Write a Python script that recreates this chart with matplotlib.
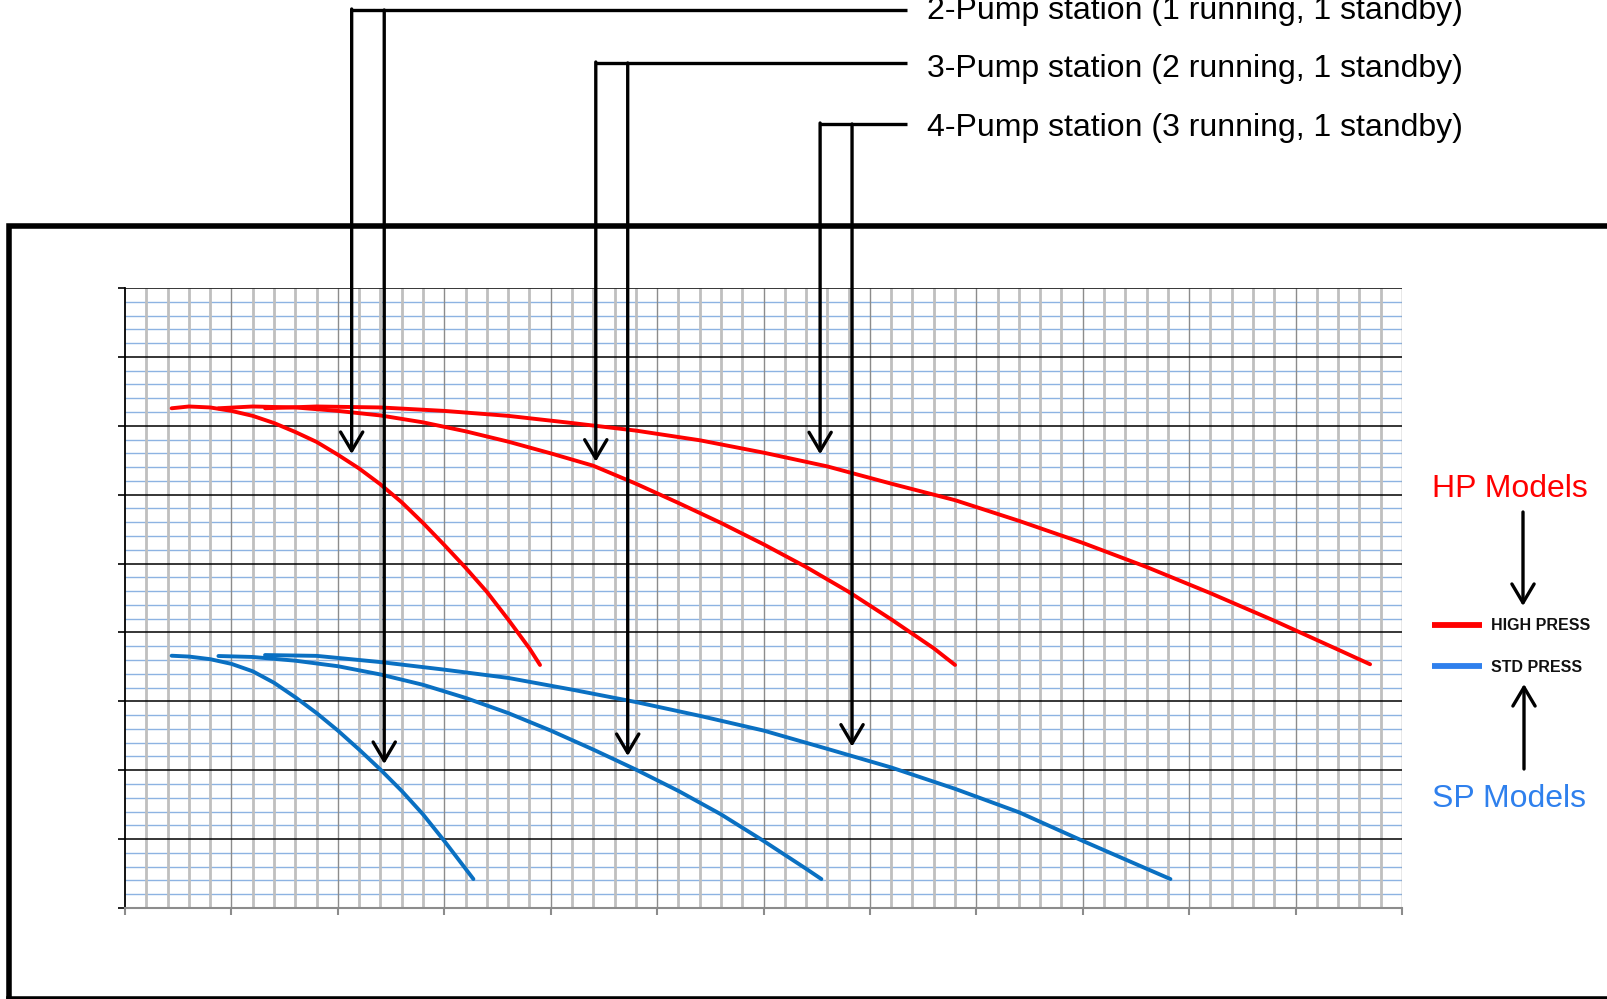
import matplotlib
matplotlib.use('Agg')
import matplotlib.pyplot as plt
import numpy as np

plt.rcParams['font.family'] = ['Liberation Sans', 'DejaVu Sans']

# %% Data: pump curves (x = flow, y = head, grid units)
# HP models, 1 / 2 / 3 pumps running
hp1_x = [2.19, 3, 4, 5, 6, 7, 8, 9, 10, 11, 12, 13, 14, 15, 16, 17, 18, 19, 19.5]
hp1_y = [36.27, 36.40, 36.33, 36.08, 35.72, 35.20, 34.55, 33.83, 32.90, 31.90, 30.75, 29.45,
         27.95, 26.35, 24.70, 22.95, 20.95, 18.85, 17.64]
hp2_x = [4.39, 6, 8, 10, 12, 14, 16, 18, 20, 22, 24, 26, 28, 30, 32, 34, 36, 38, 39]
hp2_y = [36.27, 36.40, 36.33, 36.08, 35.75, 35.25, 34.60, 33.85, 33.00, 32.10, 30.80, 29.40,
         27.95, 26.40, 24.75, 22.95, 20.95, 18.85, 17.64]
hp3_x = [6.58, 9, 12, 15, 18, 21, 24, 27, 30, 33, 36, 39, 42, 45, 48, 51, 54, 57, 58.5]
hp3_y = [36.27, 36.40, 36.33, 36.08, 35.72, 35.20, 34.65, 33.95, 33.05, 32.05, 30.80, 29.60,
         28.10, 26.50, 24.75, 22.85, 20.85, 18.75, 17.69]

# SP models, 1 / 2 / 3 pumps running
sp1_x = [2.19, 3, 4, 5, 6, 7, 8, 9, 10, 11, 12, 13, 14, 15, 16, 16.37]
sp1_y = [18.31, 18.25, 18.06, 17.72, 17.18, 16.35, 15.30, 14.15, 12.88, 11.50, 10.05, 8.50,
         6.80, 4.87, 2.85, 2.10]
sp2_x = [4.39, 6, 8, 10, 12, 14, 16, 18, 20, 22, 24, 26, 28, 30, 32, 32.72]
sp2_y = [18.29, 18.22, 17.95, 17.55, 16.95, 16.20, 15.25, 14.15, 12.88, 11.50, 10.05, 8.50,
         6.80, 4.87, 2.85, 2.10]
sp3_x = [6.58, 9, 12, 15, 18, 21, 24, 27, 30, 33, 36, 39, 42, 45, 48, 49.12]
sp3_y = [18.36, 18.30, 17.85, 17.30, 16.70, 15.85, 14.95, 13.95, 12.88, 11.55, 10.20, 8.65,
         6.95, 4.87, 2.85, 2.10]

station_labels = ['2-Pump station (1 running, 1 standby)',
                  '3-Pump station (2 running, 1 standby)',
                  '4-Pump station (3 running, 1 standby)']
legend_labels = ['HIGH PRESS', 'STD PRESS']
model_labels = ['HP Models', 'SP Models']

RED = '#FF0000'
BLUE = '#0A70C2'
BLUE_LIGHT = '#2F80ED'

# %% Figure + chart axes (pixel layout of the reference)
W, H = 1607, 999
fig = plt.figure(figsize=(W / 100, H / 100), dpi=100)
ax = fig.add_axes([125 / W, (H - 908) / H, 1277 / W, 620 / H])
ax.set_xlim(0, 60)
ax.set_ylim(0, 45)

# graph-paper grid
xs = np.arange(0, 61)
ys = np.arange(0, 46)
ax.hlines(ys[ys % 5 != 0], 0, 60, color='#8DB3E2', lw=1.0, zorder=1)
ax.vlines(xs[xs % 5 != 0], 0, 45, color='#BFBFBF', lw=2.0, zorder=1.1)
ax.vlines(xs[5::5], 0, 45, color='#8C8C8C', lw=1.0, zorder=1.2)
ax.hlines(ys[5::5], 0, 60, color='black', lw=1.1, zorder=1.3)

for s in ['top', 'right']:
    ax.spines[s].set_visible(False)
ax.spines['left'].set_color('black')
ax.spines['left'].set_linewidth(1.3)
ax.spines['bottom'].set_color('#8C8C8C')
ax.spines['bottom'].set_linewidth(1.5)
ax.set_xticks(np.arange(0, 61, 5))
ax.set_yticks(np.arange(0, 46, 5))
ax.tick_params(direction='out', length=5, labelbottom=False, labelleft=False)
ax.tick_params(axis='x', color='#8C8C8C', width=1.5)
ax.tick_params(axis='y', color='black', width=1.2)

# curves
for cx, cy in [(hp1_x, hp1_y), (hp2_x, hp2_y), (hp3_x, hp3_y)]:
    ax.plot(cx, cy, color=RED, lw=2.8, solid_capstyle='round', solid_joinstyle='round', zorder=3)
for cx, cy in [(sp1_x, sp1_y), (sp2_x, sp2_y), (sp3_x, sp3_y)]:
    ax.plot(cx, cy, color=BLUE, lw=2.8, solid_capstyle='round', solid_joinstyle='round', zorder=3)

# %% Overlay in pixel coords for frame, callouts and side legend
cv = fig.add_axes([0, 0, 1, 1], zorder=5)
cv.set_xlim(0, W)
cv.set_ylim(H, 0)
cv.axis('off')
cv.patch.set_alpha(0)

# outer frame (cut off at right and bottom)
cv.plot([9, 9, W + 20], [H + 20, 226, 226], color='black', lw=4, solid_joinstyle='miter')
cv.plot([9, W + 20], [999, 999], color='black', lw=4)


def to_px(pt):
    return cv.transData.inverted().transform(ax.transData.transform(pt))


arrow_kw = dict(arrowstyle='->,head_length=1.35,head_width=0.8', lw=2.4, color='black',
                shrinkA=0, shrinkB=0, mutation_scale=10)

# arrow tips (data coords) on the HP and SP curves for each station
tips = [((10.65, 32.95), (12.18, 10.45)),
        ((22.12, 32.39), (23.62, 11.03)),
        ((32.66, 32.93), (34.16, 11.71))]
leader_y = [10, 63, 124]
label_y = [11, 69, 128]

for lab, ly, ty, (t_hp, t_sp) in zip(station_labels, leader_y, label_y, tips):
    p_hp = to_px(t_hp)
    p_sp = to_px(t_sp)
    cv.plot([p_hp[0], 907], [ly, ly], color='black', lw=2.4, solid_capstyle='butt')
    cv.annotate('', xy=p_hp, xytext=(p_hp[0], ly - 1), arrowprops=arrow_kw)
    cv.annotate('', xy=p_sp, xytext=(p_sp[0], ly), arrowprops=arrow_kw)
    cv.text(927, ty, lab, fontsize=23, va='center', ha='left', color='black')

# side legend
cv.text(1432, 489, model_labels[0], color=RED, fontsize=23, va='center', ha='left')
cv.annotate('', xy=(1523, 606), xytext=(1523, 512), arrowprops=arrow_kw)
cv.plot([1432, 1482], [625, 625], color=RED, lw=4.2, solid_capstyle='butt')
cv.text(1491, 626, legend_labels[0], fontsize=11.5, fontweight='bold', va='center', color='#111111')
cv.plot([1432, 1482], [666, 666], color=BLUE_LIGHT, lw=4.2, solid_capstyle='butt')
cv.text(1491, 667, legend_labels[1], fontsize=11.5, fontweight='bold', va='center', color='#111111')
cv.annotate('', xy=(1524, 684), xytext=(1524, 769), arrowprops=arrow_kw)
cv.text(1432, 799, model_labels[1], color=BLUE_LIGHT, fontsize=23, va='center', ha='left')

fig.savefig('out.png', dpi=100)
